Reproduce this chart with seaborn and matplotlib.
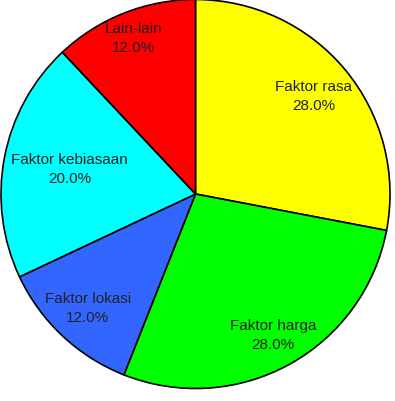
import matplotlib
matplotlib.use("Agg")
import matplotlib.pyplot as plt
import seaborn as sns
import numpy as np

sns.set_theme(style="white")
plt.rcParams['font.family'] = ['Liberation Sans', 'DejaVu Sans']

categories = ["Faktor rasa", "Faktor harga", "Faktor lokasi", "Faktor kebiasaan", "Lain-lain"]
values = [28.0, 28.0, 12.0, 20.0, 12.0]
colors = ["#FFFF00", "#00FF00", "#3366FF", "#00FFFF", "#FF0000"]
label_dist = [0.79, 0.83, 0.81, 0.66, 0.86]

fig = plt.figure(figsize=(3.95, 4.01), dpi=100)
ax = fig.add_axes([1/395, (401-388.5)/401, 389/395, 389/401])

labels_iter = iter(categories)
wedges, texts, autotexts = ax.pie(
    values, colors=colors, startangle=90, counterclock=False,
    autopct=lambda p: f"{next(labels_iter)}\n{p:.1f}%", pctdistance=0.8,
    radius=1.0,
    wedgeprops=dict(edgecolor="black", linewidth=1.2),
    textprops=dict(color="#222222", fontsize=11, linespacing=1.45))
for w, t, d in zip(wedges, autotexts, label_dist):
    ang = np.deg2rad((w.theta1 + w.theta2) / 2)
    t.set_position((d * np.cos(ang), d * np.sin(ang)))
ax.set_xlim(-1, 1)
ax.set_ylim(-1, 1)
ax.set_aspect('auto')
ax.axis('off')
fig.savefig("out.png", dpi=100)
